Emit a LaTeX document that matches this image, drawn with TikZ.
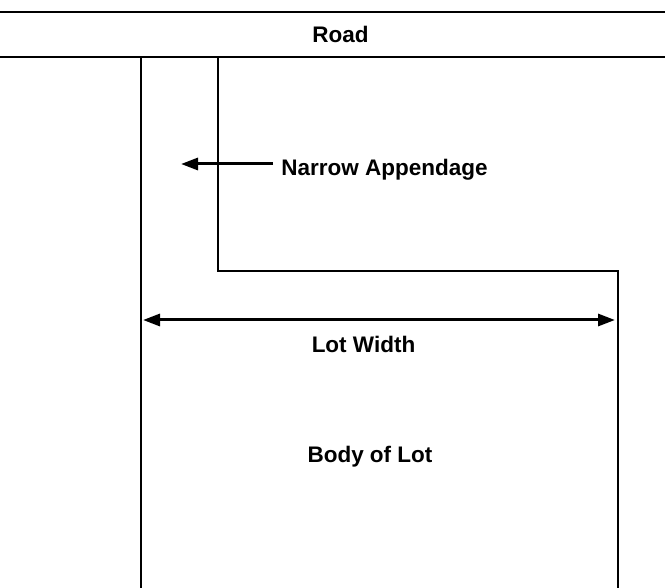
\documentclass[tikz,border=0pt]{standalone}
\usepackage{fontspec}
\setmainfont{Liberation Sans}
\usetikzlibrary{arrows.meta}
\begin{document}
\begin{tikzpicture}[x=1pt,y=-1pt,
  edge/.style={line width=1.9pt,black},
  lbl/.style={font=\fontsize{22.5}{26}\selectfont\bfseries,inner sep=0pt,anchor=base},
  tip/.tip={Triangle[length=17pt,width=12pt]},
  dim/.style={line width=3pt}]
\useasboundingbox (0,0) rectangle (665,588);
% road lines
\draw[edge] (0,12) -- (665,12);
\draw[edge] (0,57) -- (665,57);
% lot outline
\draw[edge] (141,57) -- (141,588);
\draw[edge] (218,57) -- (218,271) -- (618,271) -- (618,588);
% labels
\node[lbl] (road) at (340.5,43) {Road};
\node[lbl] (narrow) at (384.5,176) {Narrow Appendage};
\node[lbl] (width) at (363.5,353) {Lot Width};
\node[lbl] (body) at (370,463) {Body of Lot};
% arrows
\coordinate (nt) at (181,164);
\coordinate (ns) at (273,164);
\draw[dim,-tip] (ns) -- (nt);
\coordinate (wl) at (143,320);
\coordinate (wr) at (615,320);
\draw[dim,tip-tip] (wl) -- (wr);
\end{tikzpicture}
\end{document}
